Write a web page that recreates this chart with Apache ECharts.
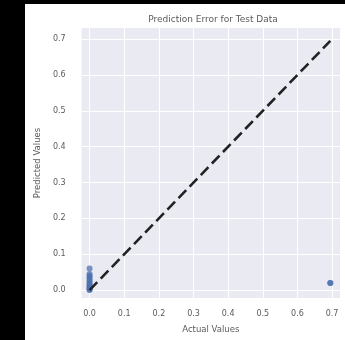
<!DOCTYPE html>
<html>
<head>
<meta charset="utf-8">
<script src="https://cdn.jsdelivr.net/npm/echarts@6/dist/echarts.min.js"></script>
<style>
  html, body { margin: 0; padding: 0; background: #000; width: 345px; height: 340px; overflow: hidden; }
  #chart { position: absolute; left: 25px; top: 4px; width: 320px; height: 336px; background: #fff; }
</style>
</head>
<body>
<div id="chart"></div>
<script>
// Actual vs predicted values for the test set
const actualValues    = [0, 0, 0, 0, 0, 0, 0, 0, 0, 0, 0, 0, 0, 0.695, 0.695];
const predictedValues = [0.06, 0.045, 0.04, 0.035, 0.03, 0.025, 0.02, 0.015, 0.012, 0.008, 0.005, 0.002, 0.0, 0.02, 0.02];
const xTicks = [0, 0.1, 0.2, 0.3, 0.4, 0.5, 0.6, 0.7];
const yTicks = [0, 0.1, 0.2, 0.3, 0.4, 0.5, 0.6, 0.7];

const points = actualValues.map((a, i) => [a, predictedValues[i]]);
const lo = Math.min(...actualValues);
const hi = Math.max(...actualValues);
const identityLine = [[lo, lo], [hi, hi]];

const font = 'DejaVu Sans';
const textColor = '#5a5a5a';

const axisCommon = (ticks, margin) => ({
  type: 'value',
  axisLine: { show: false },
  axisTick: { show: false, customValues: ticks },
  axisLabel: {
    customValues: ticks,
    formatter: v => v.toFixed(1),
    color: textColor, fontFamily: font, fontSize: 8, margin: margin
  },
  splitLine: { show: true, lineStyle: { color: '#fff', width: 1 } },
  nameTextStyle: { color: textColor, fontFamily: font, fontSize: 8.5 }
});

const chart = echarts.init(document.getElementById('chart'), null, { renderer: 'canvas' });
chart.setOption({
  animation: false,
  title: {
    text: 'Prediction Error for Test Data',
    left: 183, top: 6, textAlign: 'center',
    textStyle: { color: textColor, fontFamily: font, fontSize: 9, fontWeight: 'normal' }
  },
  grid: {
    left: 52, top: 24, right: 5, bottom: 42,
    show: true, backgroundColor: '#EAEAF2', borderWidth: 0
  },
  xAxis: Object.assign(axisCommon(xTicks, 12), {
    min: -0.023, max: 0.723,
    name: 'Actual Values', nameLocation: 'middle', nameGap: 27
  }),
  yAxis: Object.assign(axisCommon(yTicks, 16), {
    min: -0.022, max: 0.731,
    name: 'Predicted Values', nameLocation: 'middle', nameGap: 35
  }),
  series: [
    {
      type: 'scatter',
      data: points,
      symbolSize: 6,
      itemStyle: { color: '#4C72B0', opacity: 0.75 },
      z: 2
    },
    {
      type: 'line',
      data: identityLine,
      symbol: 'none',
      lineStyle: { color: '#222', width: 2.6, type: [11, 5] },
      z: 3
    }
  ]
});
</script>
</body>
</html>
